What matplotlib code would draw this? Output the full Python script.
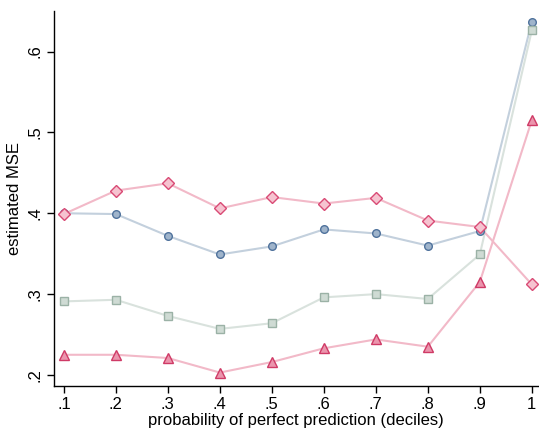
import matplotlib.pyplot as plt

plt.rcParams["font.family"] = ["Liberation Sans", "DejaVu Sans"]

deciles = [0.1, 0.2, 0.3, 0.4, 0.5, 0.6, 0.7, 0.8, 0.9, 1.0]
tick_labels = [".1", ".2", ".3", ".4", ".5", ".6", ".7", ".8", ".9", "1"]

mse_circle = [0.400, 0.399, 0.372, 0.349, 0.359, 0.380, 0.375, 0.360, 0.378, 0.637]
mse_square = [0.291, 0.293, 0.273, 0.257, 0.264, 0.296, 0.300, 0.294, 0.349, 0.626]
mse_triangle = [0.225, 0.225, 0.221, 0.203, 0.216, 0.233, 0.244, 0.235, 0.315, 0.515]
mse_diamond = [0.399, 0.428, 0.437, 0.406, 0.420, 0.412, 0.419, 0.391, 0.383, 0.312]

# (values, marker, line colour, face colour, edge colour, marker size)
series = [
    (mse_circle, "o", "#c3d0dd", "#9fb4cb", "#4f729c", 5.5),
    (mse_square, "s", "#d9e2dd", "#cfdbd4", "#9bb2a6", 5.5),
    (mse_triangle, "^", "#f2b9c8", "#eb95ad", "#cf3a66", 7),
    (mse_diamond, "D", "#f2b9c8", "#f6c3d0", "#d94a75", 6),
]

fig = plt.figure(figsize=(5.39, 4.32), dpi=100)
ax = fig.add_axes([0.1002, 0.1065, 0.898, 0.869])

for vals, mk, lc, fc, ec, ms in series:
    ax.plot(deciles, vals, color=lc, lw=1.5, zorder=2)
    ax.plot(deciles, vals, ls="none", marker=mk, ms=ms, mfc=fc, mec=ec,
            mew=1.0, zorder=3)

ax.set_xlim(0.081, 1.012)
ax.set_ylim(0.1864, 0.6506)
ax.set_xticks(deciles)
ax.set_xticklabels(tick_labels)
ax.set_yticks([0.2, 0.3, 0.4, 0.5, 0.6])
ax.set_yticklabels([".2", ".3", ".4", ".5", ".6"], rotation=90, va="center")

for side in ("top", "right"):
    ax.spines[side].set_visible(False)
for side in ("left", "bottom"):
    ax.spines[side].set_linewidth(1.0)
    ax.spines[side].set_color("black")
ax.tick_params(axis="both", length=5, width=1.0, labelsize=12, colors="black")
ax.tick_params(axis="x", pad=3)
ax.tick_params(axis="y", pad=3)

ax.set_xlabel("probability of perfect prediction (deciles)", fontsize=12, labelpad=1)
ax.set_ylabel("estimated MSE", fontsize=12, labelpad=4)

fig.savefig("out.png", dpi=100)
